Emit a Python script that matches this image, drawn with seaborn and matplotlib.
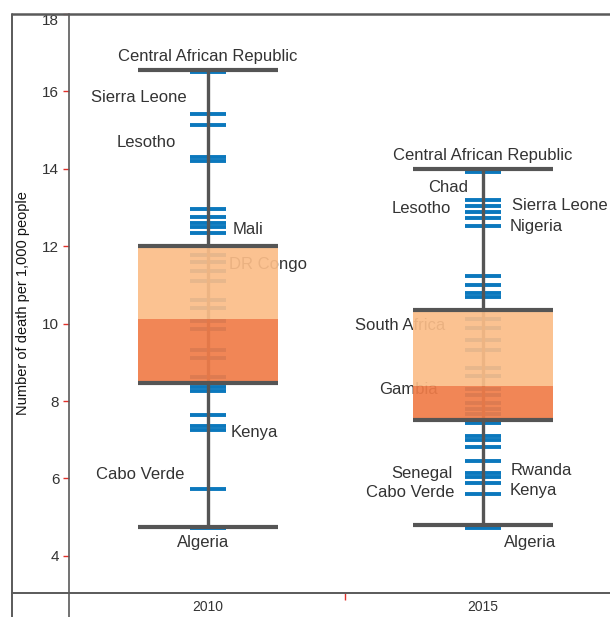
import numpy as np
import pandas as pd
import matplotlib
matplotlib.use("Agg")
import matplotlib.pyplot as plt
import seaborn as sns
from matplotlib.lines import Line2D

# values
years = ["2010", "2015"]
rates_2010 = [16.5, 15.42, 15.12, 14.3, 14.2, 12.95, 12.75, 12.6, 12.5, 12.35,
              11.78, 11.59, 11.35, 11.11, 10.61, 10.41, 10.08, 9.85, 9.31, 9.1,
              8.61, 8.35, 8.25, 7.64, 7.35, 7.25, 5.72, 4.71]
rates_2015 = [13.93, 13.19, 13.03, 12.89, 12.73, 12.52, 11.24, 11.01, 10.8, 10.68,
              10.12, 9.89, 9.57, 9.32, 8.85, 8.64, 8.31, 8.15, 7.96, 7.8, 7.67,
              7.42, 7.1, 7.0, 6.8, 6.45, 6.15, 6.05, 5.87, 5.59, 4.73]
max_vals = [16.56, 14.0]
q3_vals = [12.0, 10.35]
median_vals = [10.13, 8.4]
q1_vals = [8.47, 7.52]
min_vals = [4.75, 4.8]

# country labels: year index, name, horizontal offset from the box centre, height, alignment
label_year = [0, 0, 0, 0, 0, 0, 0, 0,
              1, 1, 1, 1, 1, 1, 1, 1, 1, 1, 1, 1]
label_name = ["Central African Republic", "Sierra Leone", "Lesotho", "Mali", "DR Congo",
              "Kenya", "Cabo Verde", "Algeria",
              "Central African Republic", "Chad", "Lesotho", "Sierra Leone", "Nigeria",
              "South Africa", "Gambia", "Senegal", "Cabo Verde", "Rwanda", "Kenya", "Algeria"]
label_dx = [0, -0.076, -0.115, 0.091, 0.077, 0.084, -0.087, -0.018,
            0, -0.055, -0.115, 0.104, 0.096, -0.465, -0.377, -0.112, -0.105, 0.101, 0.096, 0.17]
label_y = [16.91, 15.85, 14.69, 12.43, 11.53, 7.19, 6.11, 4.35,
           14.35, 13.53, 12.98, 13.05, 12.5, 9.95, 8.29, 6.14, 5.64, 6.21, 5.69, 4.35]
label_ha = ["center", "right", "right", "left", "left", "left", "right", "center",
            "center", "right", "right", "left", "left", "left", "left", "right", "right",
            "left", "left", "center"]

BLUE = "#0b78bd"
GRAY = "#555555"
LIGHT = "#fbbd88"
DARK = "#f07c48"
TEXT = "#333333"

sns.set_theme(style="white")
plt.rcParams["font.family"] = ["Liberation Sans", "DejaVu Sans"]

df = pd.DataFrame({
    "year": [years[0]] * len(rates_2010) + [years[1]] * len(rates_2015),
    "rate": rates_2010 + rates_2015,
})

fig = plt.figure(figsize=(6.1, 6.17), dpi=100)
ax = fig.add_axes([69 / 610, 24 / 617, 1 - 69 / 610, 579 / 617])

sns.stripplot(data=df, x="year", y="rate", order=years, jitter=False, marker="_",
              size=26, linewidth=2.8, color=BLUE, edgecolor=BLUE, ax=ax, zorder=1)

pos = np.arange(len(years))
half = 0.254
ax.vlines(pos, min_vals, max_vals, color=GRAY, lw=2.4, zorder=2)
ax.bar(pos, np.subtract(q3_vals, median_vals), bottom=median_vals, width=2 * half,
       color=LIGHT, alpha=0.92, zorder=3, linewidth=0)
ax.bar(pos, np.subtract(median_vals, q1_vals), bottom=q1_vals, width=2 * half,
       color=DARK, alpha=0.92, zorder=3, linewidth=0)
for vals in (max_vals, q3_vals, q1_vals, min_vals):
    ax.hlines(vals, pos - half, pos + half, color=GRAY, lw=3, zorder=4)

for i, name, dx, y, ha in zip(label_year, label_name, label_dx, label_y, label_ha):
    ax.text(pos[i] + dx, y, name, ha=ha, va="center", fontsize=12, color=TEXT, zorder=2.5)

ax.set_xlim(-0.505, 1.462)
ax.set_ylim(3.04, 18)
ax.set_yticks(np.arange(4, 19, 2))
ax.set_xticks(pos)
ax.set_xticklabels(years)
ax.set_xticks([0.5], minor=True)
ax.set_xlabel("")
ax.set_ylabel("Number of death per 1,000 people", fontsize=10.5, color="#111111")
ax.yaxis.set_label_coords(-0.072, 0.5)
ax.tick_params(axis="y", which="major", left=True, length=4, width=1, color="#e0302a",
               labelsize=11, labelcolor="#333333", pad=3)
ax.tick_params(axis="x", which="major", length=0, labelsize=10, labelcolor="#333333", pad=5)
ax.tick_params(axis="x", which="minor", bottom=True, length=5, width=1, color="#e0302a")
ax.get_yticklabels()[-1].set_va("top")
for s in ax.spines.values():
    s.set_visible(False)

# table-like frame around the plot
fl = dict(color="#5a5a5a", transform=fig.transFigure)
fig.add_artist(Line2D([12 / 610, 1], [603 / 617, 603 / 617], lw=1.8, **fl))
fig.add_artist(Line2D([12 / 610, 1], [24 / 617, 24 / 617], lw=1.4, **fl))
fig.add_artist(Line2D([12 / 610, 12 / 610], [0, 603 / 617], lw=1.4, **fl))
fig.add_artist(Line2D([69 / 610, 69 / 610], [0, 603 / 617], lw=1.2, **fl))

fig.savefig("out.png", dpi=100)
